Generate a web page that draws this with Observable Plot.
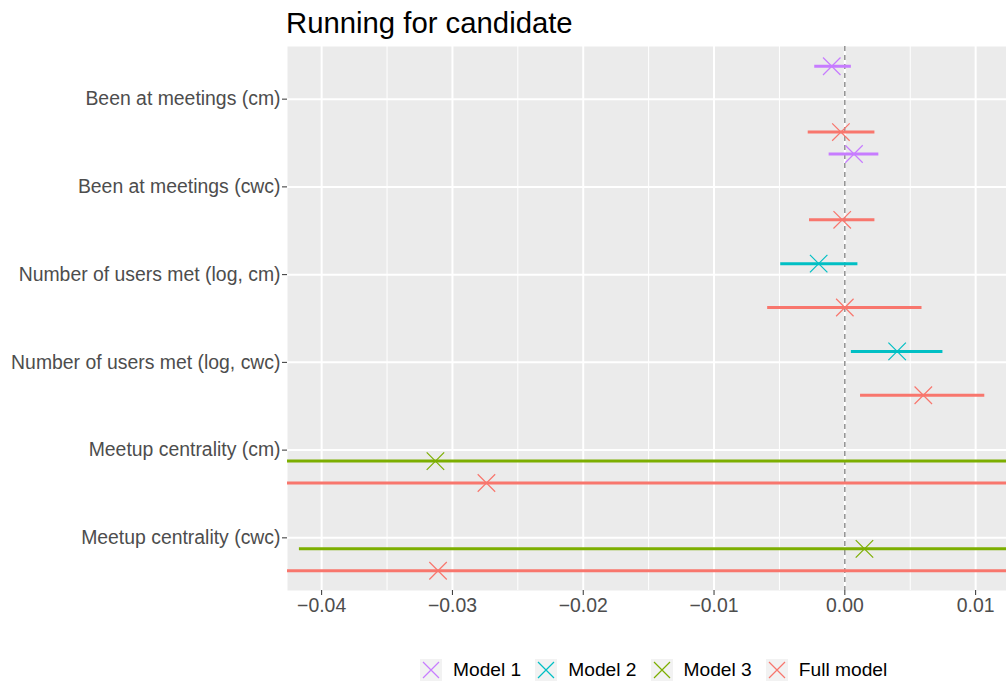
<!DOCTYPE html>
<html>
<head>
<meta charset="utf-8">
<script src="https://cdn.jsdelivr.net/npm/d3@7"></script>
<script src="https://cdn.jsdelivr.net/npm/@observablehq/plot@0.6"></script>
<style>
  html, body { margin: 0; padding: 0; background: #fff; }
  #wrap { position: relative; width: 1006px; height: 682px; font-family: "Liberation Sans", Arial, Helvetica, sans-serif; }
  #title { position: absolute; left: 286px; top: 6px; font-size: 29.3px; color: #000; white-space: nowrap; }
  #chart { position: absolute; left: 0; top: 46px; }
  #legend { position: absolute; left: 420px; top: 659px; display: flex; align-items: center; font-size: 19.2px; color: #000; }
  .item { display: flex; align-items: center; margin-right: 14px; }
  .item svg { margin-right: 11px; }
</style>
</head>
<body>
<div id="wrap">
  <div id="title">Running for candidate</div>
  <div id="chart"></div>
  <div id="legend"></div>
</div>
<script>
// ---- data ----
const categories = [
  "Been at meetings (cm)",
  "Been at meetings (cwc)",
  "Number of users met (log, cm)",
  "Number of users met (log, cwc)",
  "Meetup centrality (cm)",
  "Meetup centrality (cwc)"
];
const models = ["Model 1", "Model 2", "Model 3", "Full model"];
const modelColors = ["#C77CFF", "#00BFC4", "#7CAE00", "#F8766D"];
const dodgeOffsets = [-0.375, -0.125, 0.125, 0.375];

const rowTerm  = [0, 0, 1, 1, 2, 2, 3, 3, 4, 4, 5, 5];
const rowModel = ["Model 1", "Full model", "Model 1", "Full model", "Model 2", "Full model",
                  "Model 2", "Full model", "Model 3", "Full model", "Model 3", "Full model"];
const estimate = [-0.0010, -0.0003, 0.0007, -0.0002, -0.0020, 0.0000,
                  0.0040, 0.0060, -0.0313, -0.0274, 0.0015, -0.0311];
const lower    = [-0.0023, -0.0028, -0.0012, -0.0027, -0.0049, -0.0059,
                  0.0005, 0.0012, -0.0800, -0.0720, -0.0417, -0.0760];
const upper    = [0.0005, 0.0023, 0.0026, 0.0023, 0.0010, 0.0059,
                  0.0075, 0.0107, 0.0180, 0.0170, 0.0447, 0.0140];

const xMajor = [-0.04, -0.03, -0.02, -0.01, 0.00, 0.01];
const xMinor = [-0.035, -0.025, -0.015, -0.005, 0.005];
const xDomain = [-0.04261, 0.01236];

// ---- table ----
const rows = estimate.map((e, i) => ({
  term: categories[rowTerm[i]],
  model: rowModel[i],
  pos: rowTerm[i] + 1 + dodgeOffsets[models.indexOf(rowModel[i])],
  estimate: e,
  lower: lower[i],
  upper: upper[i]
}));
const yTicks = categories.map((c, i) => i + 1);

const plot = Plot.plot({
  width: 1006,
  height: 600,
  marginLeft: 287,
  marginRight: 0,
  marginTop: 0,
  marginBottom: 56,
  style: { fontFamily: "Liberation Sans, Arial, sans-serif", fontSize: "19.4px", color: "#4D4D4D", background: "transparent" },
  x: { domain: xDomain },
  y: { domain: [0.4, 6.6], reverse: true },
  color: { domain: models, range: modelColors },
  marks: [
    Plot.frame({ fill: "#EBEBEB", stroke: null }),
    Plot.ruleX(xMinor, { stroke: "white", strokeWidth: 1 }),
    Plot.ruleX(xMajor, { stroke: "white", strokeWidth: 2 }),
    Plot.ruleY(yTicks, { stroke: "white", strokeWidth: 2 }),
    Plot.ruleX([0], { stroke: "#808080", strokeWidth: 1.3, strokeDasharray: "5,4" }),
    Plot.ruleY(rows, { y: "pos", x1: "lower", x2: "upper", stroke: "model", strokeWidth: 3, clip: true }),
    Plot.dot(rows, { x: "estimate", y: "pos", symbol: "times", stroke: "model", r: 8, strokeWidth: 1.2 }),
    Plot.axisX({ ticks: xMajor, tickFormat: d3.format(".2f"), tickSize: 5, tickPadding: 3, label: null, stroke: "#333" }),
    Plot.axisY({ ticks: yTicks, tickFormat: d => categories[d - 1], tickSize: 5, tickPadding: 2, label: null, stroke: "#333" })
  ]
});
document.getElementById("chart").appendChild(plot);

// ---- legend ----
const legend = document.getElementById("legend");
models.forEach((m, i) => {
  const item = document.createElement("div");
  item.className = "item";
  item.innerHTML = `<svg width="22" height="22" viewBox="0 0 22 22">
      <rect width="22" height="22" fill="#F2F2F2"></rect>
      <path d="M3,3L19,19M19,3L3,19" stroke="${modelColors[i]}" stroke-width="1.2"></path>
    </svg><span>${m}</span>`;
  legend.appendChild(item);
});
</script>
</body>
</html>
